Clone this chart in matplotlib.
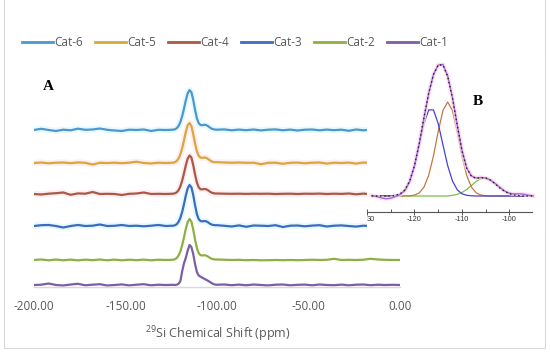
import matplotlib
matplotlib.use("Agg")
import matplotlib.pyplot as plt
from matplotlib.patches import Rectangle
from matplotlib.ticker import FixedLocator

plt.rcParams['font.family'] = ['Open Sans', 'DejaVu Sans']
plt.rcParams['mathtext.fontset'] = 'custom'
plt.rcParams['mathtext.rm'] = 'Open Sans'

# ---------------- data: main stacked spectra ----------------
shift = (list(range(-200, -123, 4)) + list(range(-123, -100)) + list(range(-100, 1, 4)))

cat6 = ([0, 1.2, 0, -1.0, 0.3, -0.3, 1.3, 0.2, 0.5, 1.5, 0.2, -0.5, -1.0, 0.3, 0, 0.5, -1.0, 0.2, 0, 0.3]
        + [0.7, 1.8, 4.1, 8.0, 14.0, 21.7, 30.0, 36.7, 39.9, 37.8, 30.2, 20.2, 11.8, 6.8, 5.0, 4.8, 5.2, 5.0, 4.0, 2.6, 1.4, 0.8, 0.4]
        + [0.3, 0.6, -0.3, 0.4, -0.2, 0.5, -0.4, 0.3, 0.6, -0.3, 0.4, -0.5, 0.3, 0.5, -0.3, 0.4, -0.2, 0.3, -0.8, 0.5, -0.3, 0.4, 0, 0.3, 0, 0.2])
cat5 = ([0, 0.5, -0.3, 0.3, 0.5, -0.2, 0.6, 0.2, -1.5, 0.2, 0, 0.3, -0.2, 0.3, 1.3, 0, -0.5, 0.3, 0, 0.3]
        + [0.8, 2.0, 4.5, 8.6, 15.0, 23.0, 31.5, 37.8, 40.0, 37.0, 29.0, 19.5, 11.8, 7.2, 5.3, 5.2, 5.5, 5.2, 4.2, 2.8, 1.6, 1.0, 0.8]
        + [0.8, 0.5, 0.3, 0.5, 0.2, 0.3, -1.2, 0.2, 0.3, -0.8, 0.2, 0.4, -0.3, 0.3, 0.5, -0.6, 0.3, 0, 0.4, -0.6, 0.5, 0, 0, 0, 0, 0])
cat4 = ([0, -0.5, 0.3, 0.8, 1.5, -0.8, 0.6, 0.3, 2.0, 0, 0.2, 0, -1.0, 0.2, 0.5, 1.5, 0, 0.2, 0, 0.3]
        + [0.7, 1.7, 3.9, 7.7, 13.5, 21.0, 29.0, 35.5, 38.5, 36.5, 29.0, 19.5, 11.5, 6.7, 4.8, 4.6, 5.0, 4.8, 3.8, 2.5, 1.4, 0.8, 0.5]
        + [0.5, 0.3, 0.2, 0.3, 0.1, 0.3, 0.2, 0.3, 0, 0.2, 0.3, 0, 0.3, 0.2, 0.4, 0, 0.3, 0.1, 0.5, -0.3, 0.4, -0.2, 0, 0, 0, 0])
cat3 = ([0, 0.8, 1.0, 0, -1.5, 0, 1.0, 0, 0.3, 1.5, 0, 0.2, 1.0, 0, 0.3, -0.3, 0.3, 1.0, 0, 0.3]
        + [0.7, 1.8, 4.2, 8.2, 14.3, 22.2, 30.8, 37.7, 41.0, 38.8, 31.0, 20.8, 12.0, 6.8, 5.0, 4.6, 5.0, 4.8, 3.8, 2.5, 1.5, 1.0, 0.8]
        + [0.8, 0.2, -0.5, 0.6, -0.8, 0.5, 0.3, 0, 0.8, -1.0, 0.3, 0.5, -0.3, 0.4, 0.8, -0.5, 0.3, 0.6, 0, -0.6, 0.3, 0, 0, 0, 0, 0])
cat2 = ([0, 0.5, -0.3, 0.5, -0.3, 0.4, -0.4, 0.4, -0.2, 0.5, -0.3, 0.4, -0.3, 0.3, -0.2, 0.4, -0.3, 0.3, 0, 0.2]
        + [0.8, 2.0, 4.5, 8.6, 15.0, 23.0, 31.5, 38.0, 41.0, 38.5, 30.5, 20.5, 12.0, 6.8, 4.8, 4.5, 4.8, 4.5, 3.5, 2.3, 1.3, 0.8, 0.5]
        + [0.5, 0.3, 0, 0.2, -0.2, 0, -0.3, -0.2, 0, -0.2, 0, -0.2, 0, 0.3, 0, 0.2, 1.2, 0, 0.2, 0, 0.3, 1.2, 0.5, 0.2, 0, 0])
cat1 = ([0, 0.3, 1.5, 0, -0.5, 0.5, 1.2, -0.3, 0.3, 0.8, -0.5, 0, 0.6, -0.4, 0.3, 0.8, -0.3, 0.3, 0, 0.2]
        + [0, 0.3, 1.2, 4.0, 14.0, 22.0, 27.5, 34.5, 40.0, 38.0, 31.0, 21.0, 13.0, 9.5, 8.3, 7.3, 6.3, 5.3, 4.3, 3.2, 2.0, 1.0, 0.4]
        + [0.3, 0.5, -0.2, 0.4, -0.3, 0.5, 0, -0.4, 0.3, 0.5, -0.3, 0.2, 0.4, -0.3, 0.5, 0, -0.2, 0.4, -0.3, 0.3, 0.5, -0.2, 0.3, 0, 0.2, 0])

labels = ["Cat-6", "Cat-5", "Cat-4", "Cat-3", "Cat-2", "Cat-1"]
series = [cat6, cat5, cat4, cat3, cat2, cat1]
offsets = [157, 124, 93, 61, 27, 2]
colors = ["#4A98CE", "#D9A83A", "#A85A45", "#3B6CC0", "#8DB043", "#7B5EA7"]
glows = ["#E8FAFF", "#FFEEF4", "#FFEEF4", "#E8FAFF", None, None]
xticks = [-200, -150, -100, -50, 0]
xticklabels = ["-200.00", "-150.00", "-100.00", "-50.00", "0.00"]

# ---------------- data: inset deconvolution ----------------
ppm_b = list(range(-129, -94))
comp_blue = [0] * 5 + [0.7, 2.2, 6.3, 15.1, 30.4, 51.1, 72.4, 86.1, 86.1, 72.4, 51.1, 30.4, 15.1, 6.3, 2.2, 0.7, 0.2] + [0] * 13
comp_orange = [0] * 8 + [0.2, 0.9, 3.1, 8.9, 20.7, 40.1, 64.4, 85.5, 94, 85.5, 64.4, 40.1, 20.7, 8.9, 3.1, 0.9, 0.2] + [0] * 10
comp_green = [0] * 17 + [0.65, 1.6, 3.5, 6.5, 10.5, 14.5, 17.4, 17.9, 15.9, 12.2, 8.0, 4.6, 2.3, 1.0, 0.35] + [0] * 3
fit_sum = [0] * 5 + [0.7, 2.2, 6.3, 15.0, 30.5, 52.5, 78.5, 103.0, 121.5, 131.0, 131.0, 119.5, 98.0, 71.0, 45.5,
                     27.9, 19.6, 17.6, 18.3, 18.1, 15.9, 12.2, 8.0, 4.6, 2.3, 1.0, 0.35] + [0] * 3
experimental = [0.5, -0.5, -1.8, -2.8, -2.2, -0.5, 1.5, 5.5, 14.5, 30.0, 52.0, 78.0, 102.5, 121.5, 131.0, 131.5, 120.0, 98.5,
                71.5, 46, 28, 20, 18, 18.5, 18, 16, 12.5, 8.5, 5, 2.8, 2, 2.2, 1.8, 0.8, 0.2]
inset_ticks = [-130, -120, -110, -100]
inset_ticklabels = ["30", "-120", "-110", "-100"]

# ---------------- figure ----------------
W, H = 550, 356
fig = plt.figure(figsize=(W / 100, H / 100), dpi=100)


def rect(l, t, r, b):
    return [l / W, 1 - b / H, (r - l) / W, (b - t) / H]


ax = fig.add_axes(rect(34, 60, 400, 287))
ax.set_xlim(-200, 0)
ax.set_ylim(0, 227)
for lab, ys, off, c, g in zip(labels, series, offsets, colors, glows):
    yy = [v + off for v in ys]
    if g:
        ax.plot(shift, yy, color=g, lw=4.5, solid_capstyle='butt', zorder=1)
    ax.plot(shift, yy, color=c, lw=1.6, label=lab, zorder=2)

for s in ["top", "left", "right"]:
    ax.spines[s].set_visible(False)
ax.spines["bottom"].set_color("#D9D9D9")
ax.spines["bottom"].set_linewidth(1.0)
ax.set_yticks([])
ax.set_xticks(xticks)
ax.set_xticklabels(xticklabels)
ax.tick_params(axis='x', length=0, pad=9, labelsize=8.5, labelcolor="#595959")

handles, labs = ax.get_legend_handles_labels()
leg = fig.legend(handles, labs, loc='center left', bbox_to_anchor=(22 / W, 1 - 43 / H), ncol=6,
                 frameon=False, fontsize=8.5, handlelength=2.6, handletextpad=0.15, columnspacing=1.0,
                 borderpad=0, borderaxespad=0)
for t in leg.get_texts():
    t.set_color("#595959")
for l in leg.get_lines():
    l.set_linewidth(2.0)

fig.text(218 / W, 1 - 334 / H, r"$\mathregular{^{29}}$Si Chemical Shift (ppm)", ha='center', va='center',
         fontsize=9, color="#595959")
fig.text(48 / W, 1 - 87 / H, "A", ha='center', va='center', fontsize=11, fontweight='bold',
         family='Liberation Serif')

# inset
ai = fig.add_axes(rect(367, 56, 545, 232), zorder=3)
ai.set_facecolor('white')
ai.set_xlim(-130, -92.5)
ai.set_ylim(-36, 140)
ai.plot(ppm_b, comp_green, color="#77C04A", lw=0.9)
ai.plot(ppm_b, comp_orange, color="#C27A3E", lw=0.9)
ai.plot(ppm_b, comp_blue, color="#4A3FD6", lw=0.9)
ai.plot(ppm_b, experimental, color="#FFD6EA", lw=3.0, alpha=0.8)
ai.plot(ppm_b, experimental, color="#A06BE0", lw=1.0)
ai.plot(ppm_b, fit_sum, color="#222222", lw=1.0, ls=(0, (1, 2)))
for s in ["top", "left", "right"]:
    ai.spines[s].set_visible(False)
ai.spines["bottom"].set_position(('data', -16))
ai.spines["bottom"].set_bounds(-130, -95.3)
ai.spines["bottom"].set_color("#555555")
ai.spines["bottom"].set_linewidth(0.8)
ai.set_yticks([])
ai.set_xticks(inset_ticks)
ai.set_xticklabels(inset_ticklabels)
ai.xaxis.set_minor_locator(FixedLocator([-125, -115, -105]))
ai.tick_params(axis='x', which='major', direction='inout', length=4, width=0.7, color="#555555",
               labelsize=5.3, pad=1, labelcolor="#333333")
ai.tick_params(axis='x', which='minor', direction='in', length=2, width=0.7, color="#555555")
for t in ai.get_xticklabels():
    t.set_family('Liberation Sans')
ai.get_xticklabels()[0].set_ha('left')

fig.text(478 / W, 1 - 102 / H, "B", ha='center', va='center', fontsize=11, fontweight='bold',
         family='Liberation Serif', zorder=5)

# chart border
fig.patches.append(Rectangle((4 / W, 1 - 348 / H), (545 - 4) / W, 348 / H + 0.02, transform=fig.transFigure,
                             fill=False, edgecolor="#D9D9D9", lw=0.8, figure=fig))

fig.savefig("out.png", dpi=100)
